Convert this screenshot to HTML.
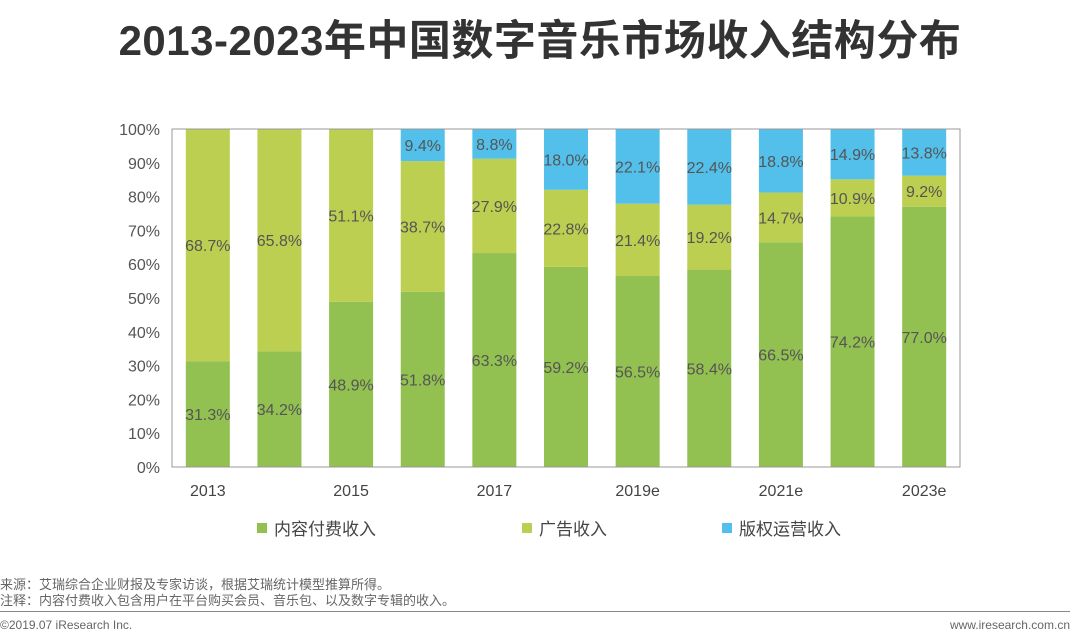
<!DOCTYPE html>
<html><head><meta charset="utf-8">
<style>
body{margin:0;width:1080px;height:640px;background:#fff;overflow:hidden;font-family:"Liberation Sans","Noto Sans CJK SC",sans-serif;}
#title{position:absolute;left:0;width:1080px;top:7px;text-align:center;font-size:42px;font-weight:bold;color:#333;letter-spacing:0.5px;}
.note{position:absolute;left:0;font-size:13px;color:#666;}
</style></head><body>
<div id="title">2013-2023年中国数字音乐市场收入结构分布</div>
<svg id="chart" width="1080" height="640" style="position:absolute;left:0;top:0"></svg>
<div class="note" style="top:574px">来源：艾瑞综合企业财报及专家访谈，根据艾瑞统计模型推算所得。</div>
<div class="note" style="top:590px">注释：内容付费收入包含用户在平台购买会员、音乐包、以及数字专辑的收入。</div>
<div style="position:absolute;left:0;top:611px;width:1070px;height:1px;background:#888"></div>
<div class="note" style="top:618px;font-size:12px">©2019.07 iResearch Inc.</div>
<div class="note" style="top:618px;left:auto;right:10px;font-size:12px">www.iresearch.com.cn</div>
<script>
const categories=["2013","2014","2015","2016","2017","2018","2019e","2020e","2021e","2022e","2023e"];
const tickLabels=["2013","","2015","","2017","","2019e","","2021e","","2023e"];
const content=[31.3,34.2,48.9,51.8,63.3,59.2,56.5,58.4,66.5,74.2,77.0];
const ads=[68.7,65.8,51.1,38.7,27.9,22.8,21.4,19.2,14.7,10.9,9.2];
const copyright=[0,0,0,9.4,8.8,18.0,22.1,22.4,18.8,14.9,13.8];
const seriesNames=["内容付费收入","广告收入","版权运营收入"];
const yTicks=[0,10,20,30,40,50,60,70,80,90,100];
const NS="http://www.w3.org/2000/svg";
const svg=document.getElementById('chart');
const L=172,R=960,T=129,B=467;
const step=(R-L)/categories.length,bw=44;
const x=i=>L+step*(i+0.5);
const y=v=>B-(B-T)*v/100;
function mk(t,a){const e=document.createElementNS(NS,t);for(const k in a)e.setAttribute(k,a[k]);svg.appendChild(e);return e;}
const colors=["#92c051","#bccf50","#52c0ea"];
yTicks.forEach(v=>{const t=mk('text',{x:L-12,y:y(v)+6,'text-anchor':'end','font-size':16,fill:'#555'});t.textContent=v+'%';

});
const series=[content,ads,copyright];
categories.forEach((c,i)=>{let base=0;
series.forEach((s,k)=>{const v=s[i];if(!v){return;}
const top=Math.min(100,base+v);
const r=mk('rect',{x:x(i)-bw/2,y:y(top),width:bw,height:y(base)-y(top),fill:colors[k]});


const t=mk('text',{x:x(i),y:(y(base)+y(top))/2+6,'text-anchor':'middle','font-size':16,fill:'#555'});
t.textContent=v.toFixed(1)+'%';


base=top;});
const tl=mk('text',{x:x(i),y:B+29,'text-anchor':'middle','font-size':16,fill:'#444'});tl.textContent=tickLabels[i];


});
const frame=mk('rect',{x:L,y:T,width:R-L,height:B-T,fill:'none',stroke:'#999','stroke-width':1});


const lx=[257,522,722];
seriesNames.forEach((n,k)=>{const r=mk('rect',{x:lx[k],y:523,width:10,height:10,fill:colors[k]});


const t=mk('text',{x:lx[k]+17,y:535,'font-size':17,fill:'#444'});t.textContent=n;

});
</script>
</body></html>
